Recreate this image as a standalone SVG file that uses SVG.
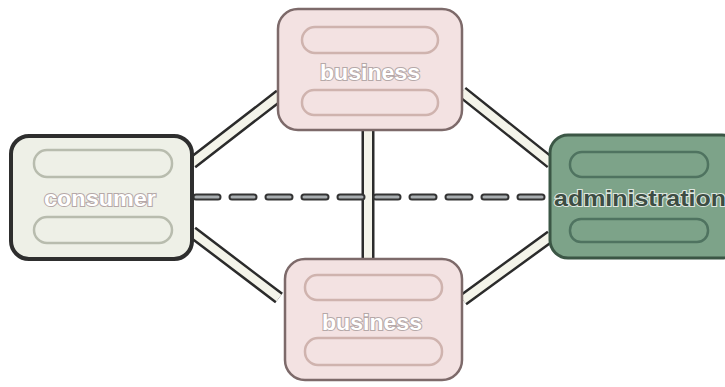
<svg xmlns="http://www.w3.org/2000/svg" width="725" height="387" viewBox="0 0 725 387">
<style>
.pipeo{stroke:#2b2b2b;stroke-width:13;fill:none;stroke-linecap:butt}
.pipei{stroke:#f4f4ea;stroke-width:8;fill:none;stroke-linecap:butt}
.dasho{stroke:#333;stroke-width:7;stroke-dasharray:22 14;fill:none;stroke-linecap:round}
.dashi{stroke:#a8adb0;stroke-width:3;stroke-dasharray:22 14;fill:none;stroke-linecap:round}
.lbl{font-family:"Liberation Sans",Arial,sans-serif;font-weight:bold;font-size:22px;text-anchor:middle;fill:#ffffff;stroke:#b5a8a8;stroke-width:2;paint-order:stroke}
.pink{fill:#f3e2e2;stroke:#7d6a6a;stroke-width:2.5}
.pinks{fill:none;stroke:#cfb3ae;stroke-width:2.5}
.cons{fill:#eef0e7;stroke:#2e2e2e;stroke-width:4}
.conss{fill:none;stroke:#b8bcae;stroke-width:2.5}
.adm{fill:#7da389;stroke:#3b5645;stroke-width:3}
.adms{fill:none;stroke:#4f7360;stroke-width:2.5}
</style>
<rect width="725" height="387" fill="#ffffff"/>
<g id="connectors">
<path class="pipeo" d="M192 163 L280 95 M462 92 L551 163 M192 232 L279 298 M551 236 L463 300 M368 130 L368 259"/>
<path class="pipei" d="M192 163 L280 95 M462 92 L551 163 M192 232 L279 298 M551 236 L463 300 M368 130 L368 259"/>
<path class="dasho" d="M196 197 L548 197"/>
<path class="dashi" d="M196 197 L548 197"/>
</g>
<g id="consumer">
<rect class="cons" x="11" y="136" width="181" height="123" rx="18"/>
<rect class="conss" x="34" y="150" width="138" height="27" rx="13"/>
<rect class="conss" x="34" y="217" width="138" height="26" rx="13"/>
<text class="lbl" x="100" y="206" textLength="112" lengthAdjust="spacingAndGlyphs">consumer</text>
</g>
<g id="business-top">
<rect class="pink" x="278" y="9" width="184" height="121" rx="20"/>
<rect class="pinks" x="302" y="27" width="136" height="26" rx="13"/>
<rect class="pinks" x="302" y="90" width="136" height="25" rx="12"/>
<text class="lbl" x="370" y="80" textLength="100" lengthAdjust="spacingAndGlyphs">business</text>
</g>
<g id="business-bottom">
<rect class="pink" x="285" y="259" width="177" height="121" rx="20"/>
<rect class="pinks" x="305" y="275" width="137" height="25" rx="12"/>
<rect class="pinks" x="305" y="338" width="137" height="27" rx="13"/>
<text class="lbl" x="372" y="330" textLength="100" lengthAdjust="spacingAndGlyphs">business</text>
</g>
<g id="administration">
<rect class="adm" x="550" y="135" width="190" height="123" rx="18"/>
<rect class="adms" x="570" y="152" width="138" height="25" rx="12"/>
<rect class="adms" x="570" y="219" width="138" height="23" rx="11"/>
<text x="640" y="206" font-family="Liberation Sans, Arial, sans-serif" font-weight="bold" font-size="22" text-anchor="middle" fill="#3d4d43" stroke="#dfe8e1" stroke-width="2" paint-order="stroke" textLength="172" lengthAdjust="spacingAndGlyphs">administration</text>
</g>
</svg>
